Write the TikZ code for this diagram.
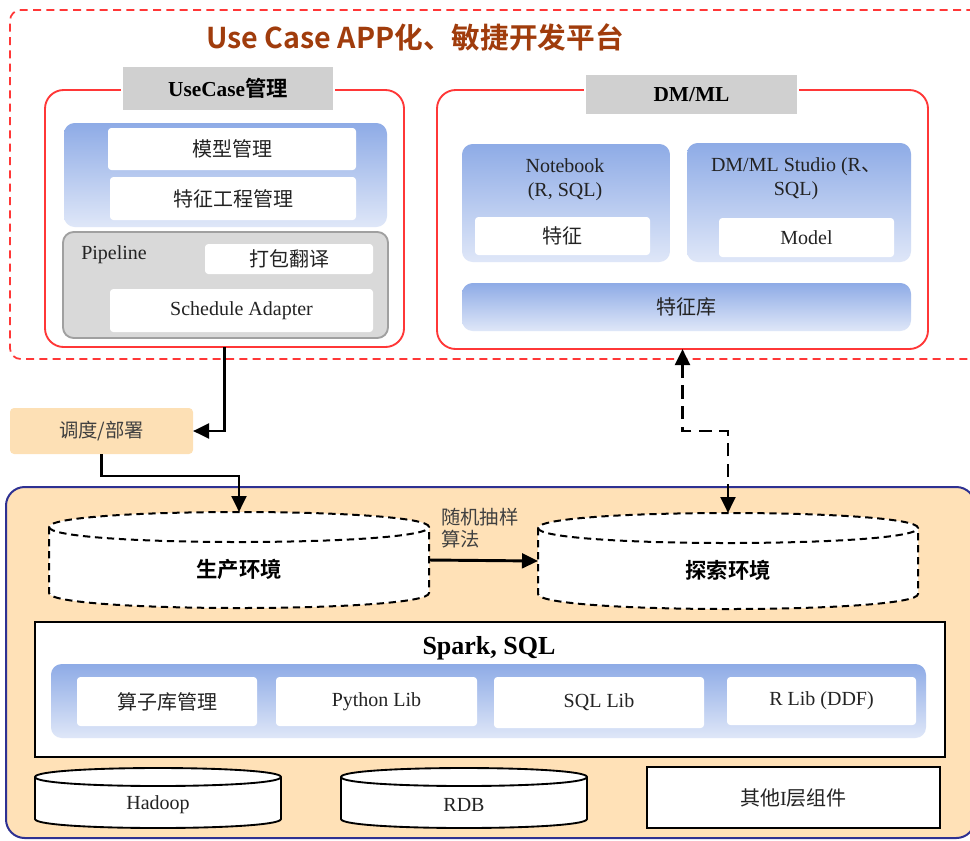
\documentclass[tikz,border=0pt]{standalone}
\usepackage{fontspec}
\setmainfont{Liberation Serif}
\newfontfamily\cjk{Noto Sans CJK SC}[BoldFont={Noto Sans CJK SC Bold}]
\usetikzlibrary{arrows.meta}
\definecolor{redc}{RGB}{255,55,55}
\definecolor{titlec}{RGB}{160,60,12}
\definecolor{lblgray}{RGB}{208,208,208}
\definecolor{grTop}{RGB}{142,171,230}
\definecolor{grBot}{RGB}{223,231,248}
\definecolor{pipefill}{RGB}{217,217,217}
\definecolor{pipedraw}{RGB}{160,160,160}
\definecolor{basefill}{RGB}{255,225,183}
\definecolor{dispfill}{RGB}{253,224,181}
\definecolor{baseblue}{RGB}{46,49,146}
\definecolor{txtc}{RGB}{35,35,35}
\definecolor{txtg}{RGB}{64,64,64}
\newcommand{\zh}[1]{{\cjk #1}}
\newcommand{\bx}[7]{\node[#2, minimum width={0.75pt*(#5-#3)}, minimum height={0.75pt*(#6-#4)}] (#1) at ({(#3+#5)/2},{(#4+#6)/2}) {#7};}
\newcommand{\cylshape}[6]{% style, x1, x2, ytop, ybot, ry
  \path[#1, fill=white] (#2,{#4+#6}) -- (#2,{#5-#6})
    .. controls (#2,{#5+#6/3}) and (#3,{#5+#6/3}) .. (#3,{#5-#6})
    -- (#3,{#4+#6})
    .. controls (#3,{#4-#6/3}) and (#2,{#4-#6/3}) .. cycle;
  \path[#1] (#2,{#4+#6}) .. controls (#2,{#4+#6*7/3}) and (#3,{#4+#6*7/3}) .. (#3,{#4+#6});
}
\tikzset{
  lbl/.style={font=\fontsize{15}{18}\selectfont, text=txtc},
  wbox/.style={fill=white, rounded corners=2.5pt, inner sep=0pt, outer sep=0pt, lbl},
  grad/.style={top color=grTop, bottom color=grBot, rounded corners=8pt, inner sep=0pt, outer sep=0pt, lbl},
  redbox/.style={draw=redc, line width=1.4pt, rounded corners=14pt, fill=white, inner sep=0pt, outer sep=0pt},
  graylbl/.style={fill=lblgray, draw=white, line width=2pt, inner sep=0pt, outer sep=0pt, font=\fontsize{16}{18}\selectfont\bfseries, text=black},
  pipebox/.style={fill=pipefill, draw=pipedraw, line width=1.4pt, rounded corners=8pt, inner sep=0pt, outer sep=0pt},
  outerdash/.style={draw=redc, line width=1.3pt, dash pattern=on 6pt off 4pt, rounded corners=8pt, inner sep=0pt, outer sep=0pt},
  basebox/.style={fill=basefill, draw=baseblue, line width=1.5pt, rounded corners=14pt, inner sep=0pt, outer sep=0pt},
  dispbox/.style={fill=dispfill, rounded corners=3pt, inner sep=0pt, outer sep=0pt, font=\fontsize{14.5}{18}\selectfont, text=txtg},
  blkbox/.style={fill=white, draw=black, line width=1.4pt, inner sep=0pt, outer sep=0pt, lbl},
  cylnode/.style={inner sep=0pt, outer sep=0pt},
  dashcyl/.style={draw=black, line width=1.5pt, dash pattern=on 5.5pt off 3.5pt},
  solidcyl/.style={draw=black, line width=1.4pt},
  flow/.style={draw=black, line width=2.2pt, -{Triangle[length=12pt,width=11pt]}},
  dflow/.style={draw=black, line width=2.2pt, dash pattern=on 10pt off 5.5pt, {Triangle[length=12pt,width=11pt]}-{Triangle[length=12pt,width=11pt]}},
}
\begin{document}
\begin{tikzpicture}[x=0.75pt,y=-0.75pt]
\useasboundingbox (0,0) rectangle (970,840);
\clip (0,0) rectangle (970,840);
% top platform
\bx{plat}{outerdash}{10}{10}{985}{359}{}
\node[font=\cjk\bfseries\fontsize{21.5}{24}\selectfont, text=titlec] (title) at (415,37) {Use Case APP化、敏捷开发平台};
% UseCase
\bx{uc}{redbox}{45}{90}{404}{347}{}
\bx{ucl}{graylbl}{122}{66}{334}{111}{UseCase\zh{管理}}
\bx{ucg}{grad}{64}{123}{387}{227}{}
\bx{mx}{wbox}{108}{128}{356}{170}{\zh{模型管理}}
\bx{tz}{wbox}{110}{177}{356}{220}{\zh{特征工程管理}}
\bx{pipe}{pipebox}{63}{232}{388}{338}{}
\node[lbl, anchor=west, inner sep=0pt] (pipet) at (81,255) {Pipeline};
\bx{dbfy}{wbox}{205}{244}{373}{274}{\zh{打包翻译}}
\bx{sa}{wbox}{110}{289}{373}{332}{Schedule Adapter}
% DM/ML
\bx{dm}{redbox}{437}{90}{928}{349}{}
\bx{dml}{graylbl}{585}{74}{798}{115}{DM/ML}
\bx{nb}{grad}{462}{144}{670}{262}{}
\node[lbl, align=center] (nbt) at (565,180) {Notebook\\(R, SQL)};
\bx{tzb}{wbox}{475}{217}{650}{255}{\zh{特征}}
\bx{st}{grad}{687}{143}{911}{262}{}
\node[lbl, align=center] (stt) at (796,179) {DM/ML Studio (R\zh{、}\\SQL)};
\bx{model}{wbox}{719}{218}{894}{257}{Model}
\bx{tzk}{grad}{462}{283}{911}{331}{\zh{特征库}}
% dispatch
\bx{disp}{dispbox}{10}{408}{193}{454}{\zh{调度/部署}}
% base
\bx{base}{basebox}{6}{487}{975}{838}{}
\cylshape{dashcyl}{49}{429}{512}{608}{15}
\bx{prod}{cylnode}{49}{512}{429}{608}{}
\node[font=\cjk\bfseries\fontsize{16}{18}\selectfont, text=black] (prodt) at (239,569) {生产环境};
\cylshape{dashcyl}{538}{918}{513}{609}{15}
\bx{expl}{cylnode}{538}{513}{918}{609}{}
\node[font=\cjk\bfseries\fontsize{16}{18}\selectfont, text=black] (explt) at (728,570) {探索环境};
\node[anchor=north west, align=left, inner sep=0pt, font=\cjk\fontsize{14.5}{16.5}\selectfont, text=txtg] (sampl) at (441,508) {随机抽样\\算法};
% spark
\bx{spark}{blkbox}{35}{622}{945}{757}{}
\node[font=\fontsize{19.5}{21}\selectfont\bfseries] (sparkt) at (489,648) {Spark, SQL};
\bx{libs}{grad}{51}{664}{926}{738}{}
\bx{l1}{wbox}{77}{677}{257}{726}{\zh{算子库管理}}
\bx{l2}{wbox}{276}{677}{477}{726}{Python Lib}
\bx{l3}{wbox}{494}{677}{704}{728}{SQL Lib}
\bx{l4}{wbox}{727}{677}{916}{725}{R Lib (DDF)}
% storage
\cylshape{solidcyl}{35}{281}{768}{828}{9}
\bx{had}{cylnode}{35}{768}{281}{828}{}
\node[lbl] (hadt) at (158,805) {Hadoop};
\cylshape{solidcyl}{341}{587}{768}{828}{9}
\bx{rdb}{cylnode}{341}{768}{587}{828}{}
\node[lbl] (rdbt) at (464,805) {RDB};
\bx{other}{blkbox}{647}{767}{940}{828}{\zh{其他}I\zh{层组件}}
% connectors
\draw[flow] (uc.south) |- (disp.east);
\draw[flow] (disp.south) -- ++(0,22) -| (prod.north);
\draw[flow] (prod.east) -- (expl.west);
\draw[dflow] (expl.north) -- ++(0,-82) -| (dm.south);
\end{tikzpicture}
\end{document}
